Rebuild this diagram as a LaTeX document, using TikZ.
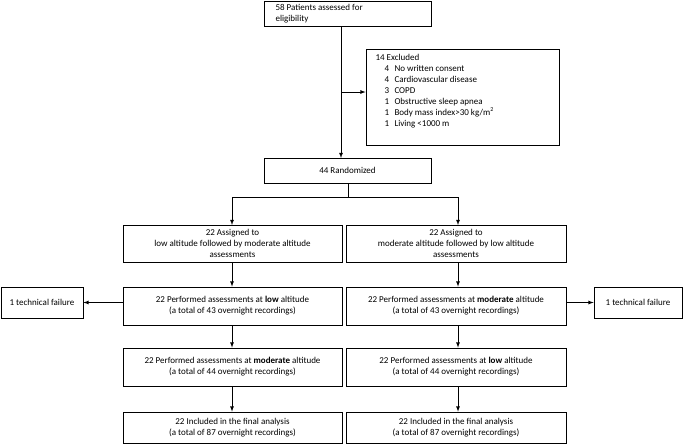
\documentclass[tikz,border=0pt]{standalone}
\usepackage{fontspec}
\setmainfont{Carlito}
\usetikzlibrary{positioning}
\begin{document}
\begin{tikzpicture}[x=1pt,y=-1pt,>=latex,
  flowbox/.style ={draw, thick, inner sep=0pt, align=center, font=\fontsize{9}{11}\selectfont},
  flowarrow/.style ={->, thick}]
 \useasboundingbox (0,0) rectangle (685,445);
 % top part
 \node[flowbox, minimum width=167pt, minimum height=25pt] (screen) at (347.5,13.5) {};
 \node[font=\fontsize{9}{11}\selectfont, align=left, anchor=west] at (272,13.5) {58 Patients assessed for\\eligibility};
 \node[flowbox, minimum width=193pt, minimum height=96pt] (excl) at (462.5,97) {};
 \node[font=\fontsize{9}{11}\selectfont, align=left, anchor=north west] at (372,51)
  {14 Excluded\\
   \hspace*{1em}4\hspace{0.6em}No written consent\\
   \hspace*{1em}4\hspace{0.6em}Cardiovascular disease\\
   \hspace*{1em}3\hspace{0.6em}COPD\\
   \hspace*{1em}1\hspace{0.6em}Obstructive sleep apnea\\
   \hspace*{1em}1\hspace{0.6em}Body mass index>30 kg/m\textsuperscript{2}\\
   \hspace*{1em}1\hspace{0.6em}Living <1000 m};
 \node[flowbox, minimum width=167pt, minimum height=25pt] (rand) at (347.5,170.5) {44 Randomized};
 \coordinate (bend) at (341,92);
 \draw[flowarrow] (341,26) -- (341,158);
 \draw[flowarrow] (bend) -- (excl.west |- bend);
 % two arms
 \node[flowbox, minimum width=219pt, minimum height=37pt] (armA) at (232.5,243.5) {22 Assigned to\\low altitude followed by moderate altitude\\assessments};
 \node[flowbox, minimum width=220pt, minimum height=37pt] (armB) at (456,243.5) {22 Assigned to\\moderate altitude followed by low altitude\\assessments};
 \coordinate (split) at (348,197);
 \draw[thick] (348,183) -- (split);
 \draw[flowarrow] (232,197) -- (232,225);
 \draw[flowarrow] (458,197) -- (458,225);
 \draw[thick] (232,197) -- (458,197);
 \node[flowbox, minimum width=219pt, minimum height=38pt] (firstA) at (232.5,306) {22 Performed assessments at \textbf{low} altitude\\(a total of 43 overnight recordings)};
 \node[flowbox, minimum width=220pt, minimum height=38pt] (firstB) at (456,306) {22 Performed assessments at \textbf{moderate} altitude\\(a total of 43 overnight recordings)};
 \node[flowbox, minimum width=82pt, minimum height=31pt] (failA) at (42,302.5) {1 technical failure};
 \node[flowbox, minimum width=88pt, minimum height=31pt] (failB) at (638,302.5) {1 technical failure};
 \node[flowbox, minimum width=219pt, minimum height=38pt] (secondA) at (232.5,367) {22 Performed assessments at \textbf{moderate} altitude\\(a total of 44 overnight recordings)};
 \node[flowbox, minimum width=220pt, minimum height=38pt] (secondB) at (456,367) {22 Performed assessments at \textbf{low} altitude\\(a total of 44 overnight recordings)};
 \node[flowbox, minimum width=219pt, minimum height=31pt] (finalA) at (232.5,427.5) {22 Included in the final analysis\\(a total of 87 overnight recordings)};
 \node[flowbox, minimum width=220pt, minimum height=31pt] (finalB) at (456,427.5) {22 Included in the final analysis\\(a total of 87 overnight recordings)};
 \draw[flowarrow] (armA.south -| 232,0) -- (firstA.north -| 232,0);
 \draw[flowarrow] (armB.south -| 458,0) -- (firstB.north -| 458,0);
 \draw[flowarrow] (firstA.west |- failA) -- (failA);
 \draw[flowarrow] (firstB.east |- failB) -- (failB);
 \draw[flowarrow] (firstA.south -| 232,0) -- (secondA.north -| 232,0);
 \draw[flowarrow] (firstB.south -| 458,0) -- (secondB.north -| 458,0);
 \draw[flowarrow] (secondA.south -| 232,0) -- (finalA.north -| 232,0);
 \draw[flowarrow] (secondB.south -| 458,0) -- (finalB.north -| 458,0);
\end{tikzpicture}
\end{document}
